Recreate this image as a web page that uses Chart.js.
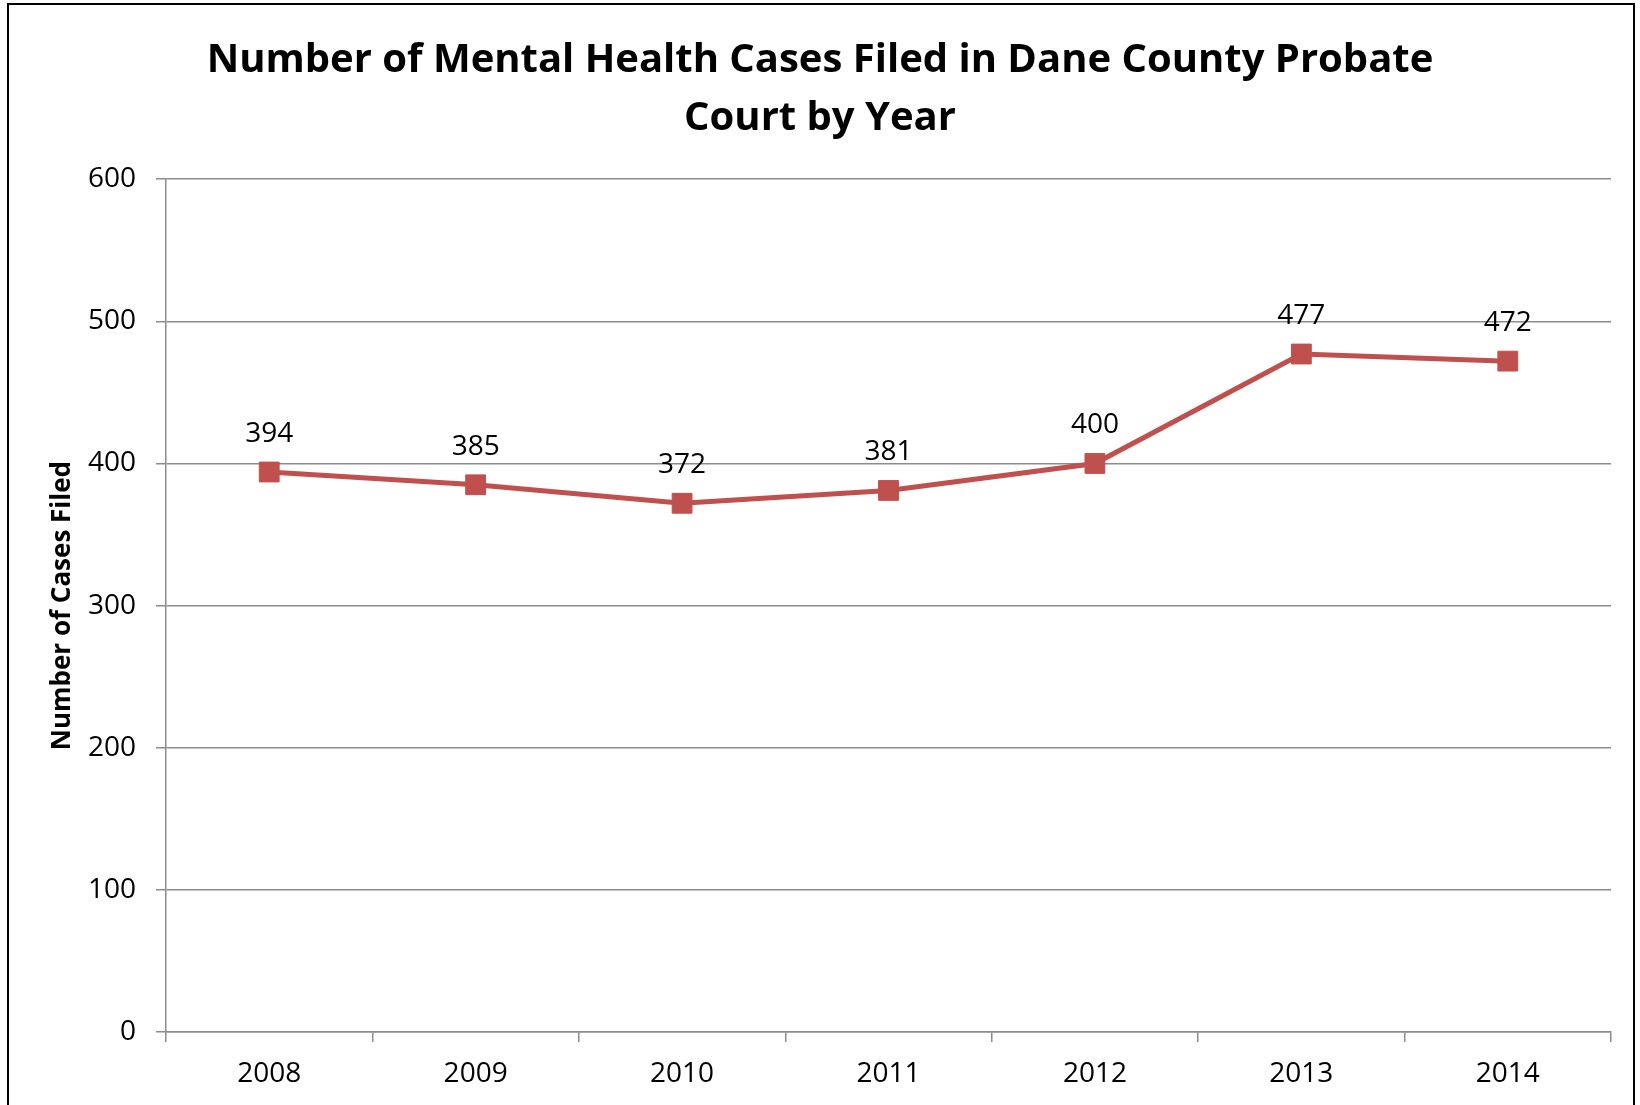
<!DOCTYPE html>
<html>
<head>
<meta charset="utf-8">
<script src="https://cdn.jsdelivr.net/npm/chart.js@4/dist/chart.umd.min.js"></script>
<style>
  html, body { margin:0; padding:0; background:#fff; overflow:hidden; }
  #wrap { position:absolute; left:0; top:0; width:1640px; height:1105px; }
  #frame { position:absolute; left:7px; top:3px; width:1628px; height:1120px; border:2.5px solid #000; box-sizing:border-box; pointer-events:none; }
  canvas { position:absolute; left:0; top:0; }
</style>
</head>
<body>
<div id="wrap">
  <canvas id="c" width="1640" height="1105"></canvas>
  <div id="frame"></div>
</div>
<script>
const categories = ['2008', '2009', '2010', '2011', '2012', '2013', '2014'];
const casesFiled = [394, 385, 372, 381, 400, 477, 472];
const yTicks = [0, 100, 200, 300, 400, 500, 600];
const titleLines = ['Number of Mental Health Cases Filed in Dane County Probate', 'Court by Year'];
const yAxisTitle = 'Number of Cases Filed';

const FONT = "'Open Sans', 'Liberation Sans', sans-serif";
const GRID = '#8c8c8c';
const RED = '#C0504D';
const TITLE_SIZE = 40, TITLE_LH = 1.44, TITLE_PAD_TOP = 32;

const labelPlugin = {
  id: 'pointLabels',
  afterDatasetsDraw(chart) {
    const ctx = chart.ctx;
    const meta = chart.getDatasetMeta(0);
    ctx.save();
    ctx.font = "28px " + FONT;
    ctx.fillStyle = '#000';
    ctx.textAlign = 'center';
    ctx.textBaseline = 'middle';
    meta.data.forEach((pt, i) => {
      ctx.fillText(String(chart.data.datasets[0].data[i]), pt.x, pt.y - 38);
    });
    ctx.restore();
  }
};

// Title centred on the whole canvas (the Chart.js title only reserves the space)
const centredTitle = {
  id: 'centredTitle',
  afterDraw(chart) {
    const ctx = chart.ctx;
    ctx.save();
    ctx.font = "bold " + TITLE_SIZE + "px " + FONT;
    ctx.fillStyle = '#000';
    ctx.textAlign = 'center';
    ctx.textBaseline = 'middle';
    const lh = TITLE_SIZE * TITLE_LH;
    titleLines.forEach((line, i) => {
      ctx.fillText(line, chart.width / 2, TITLE_PAD_TOP + lh * (i + 0.5));
    });
    ctx.restore();
  }
};

new Chart(document.getElementById('c'), {
  type: 'line',
  data: {
    labels: categories,
    datasets: [{
      data: casesFiled,
      borderColor: RED,
      backgroundColor: RED,
      borderWidth: 5,
      pointStyle: 'rect',
      pointRadius: 14,
      pointHoverRadius: 14,
      pointBorderWidth: 1,
      pointBorderColor: RED,
      pointBackgroundColor: RED,
      tension: 0,
      fill: false
    }]
  },
  options: {
    responsive: false,
    animation: false,
    events: [],
    layout: { padding: { left: 0, right: 29, top: 0, bottom: 0 } },
    plugins: {
      legend: { display: false },
      tooltip: { enabled: false },
      title: {
        display: true,
        text: titleLines,
        color: 'rgba(0,0,0,0)',
        font: { family: FONT, size: TITLE_SIZE, weight: 'bold', lineHeight: TITLE_LH },
        padding: { top: TITLE_PAD_TOP, bottom: 32 }
      }
    },
    scales: {
      x: {
        type: 'category',
        offset: true,
        grid: { drawOnChartArea: false, drawTicks: true, tickLength: 10, color: GRID, lineWidth: 1.5, offset: true },
        border: { display: true, color: GRID, width: 1.5 },
        ticks: { color: '#000', font: { family: FONT, size: 28 }, padding: 15, maxRotation: 0 },
        afterFit(scale) { scale.height = 73; }
      },
      y: {
        min: 0, max: 600,
        afterBuildTicks(scale) { scale.ticks = yTicks.map(v => ({ value: v })); },
        grid: { color: GRID, lineWidth: 1.5, tickLength: 10, drawTicks: true },
        border: { display: true, color: GRID, width: 1.5 },
        ticks: { color: '#000', font: { family: FONT, size: 28 }, padding: 20 },
        title: { display: true, text: yAxisTitle, color: '#000', font: { family: FONT, size: 26, weight: 'bold' }, padding: { top: 47, bottom: 0 } },
        afterFit(scale) { scale.width = 166; }
      }
    }
  },
  plugins: [labelPlugin, centredTitle]
});
</script>
</body>
</html>
